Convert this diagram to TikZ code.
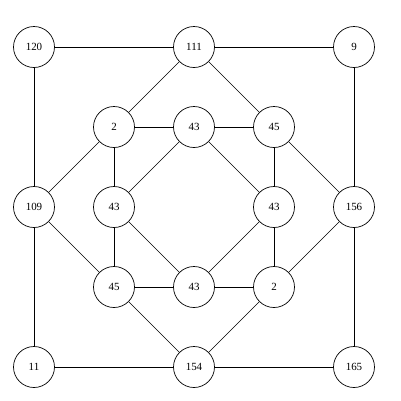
\documentclass[tikz,border=0pt]{standalone}
\usepackage{fontspec}
\setmainfont{Liberation Serif}
\usepackage{tikz}

\begin{document}
\begin{tikzpicture}[x = 1bp, y = -1bp, every node/.style = {circle,
	draw = black, line width = 0.7pt, minimum size = 41bp, inner sep = 0pt,
	font = \fontsize{11}{13}\selectfont}]

		\useasboundingbox (0, 0) rectangle (401, 401);

		\node (o1) at ( 34,  47) {120};
		\node (o2) at (194,  47) {111};
		\node (o3) at (354,  47) {9};
		\node (o4) at ( 34, 207) {109};
		\node (o5) at (354, 207) {156};
		\node (o6) at ( 34, 367) {11};
		\node (o7) at (194, 367) {154};
		\node (o8) at (354, 367) {165};

		\node (i1) at (114, 127) {2};
		\node (i2) at (194, 127) {43};
		\node (i3) at (274, 127) {45};
		\node (i4) at (114, 207) {43};
		\node (i5) at (274, 207) {43};
		\node (i6) at (114, 287) {45};
		\node (i7) at (194, 287) {43};
		\node (i8) at (274, 287) {2};

	    \foreach \from/\to in {o1/o2, o2/o3, o1/o4, o4/o6, o3/o5, o5/o8, o6/o7, o7/o8}
	    	\draw [line width = 0.7pt] (\from) -- (\to);

	    \foreach \from/\to in {o2/i1, o2/i3, o4/i1, o4/i6, o5/i3, o5/i8, o7/i6, o7/i8}
	    	\draw [line width = 0.6pt] (\from) -- (\to);

	    \foreach \from/\to in {i1/i2, i2/i3, i1/i4, i4/i6, i3/i5, i5/i8, i6/i7, i7/i8}
	    	\draw [line width = 0.7pt] (\from) -- (\to);

	    \foreach \from/\to in {i2/i4, i2/i5, i4/i7, i5/i7}
	    	\draw [line width = 0.6pt] (\from) -- (\to);

	\end{tikzpicture}
\end{document}
